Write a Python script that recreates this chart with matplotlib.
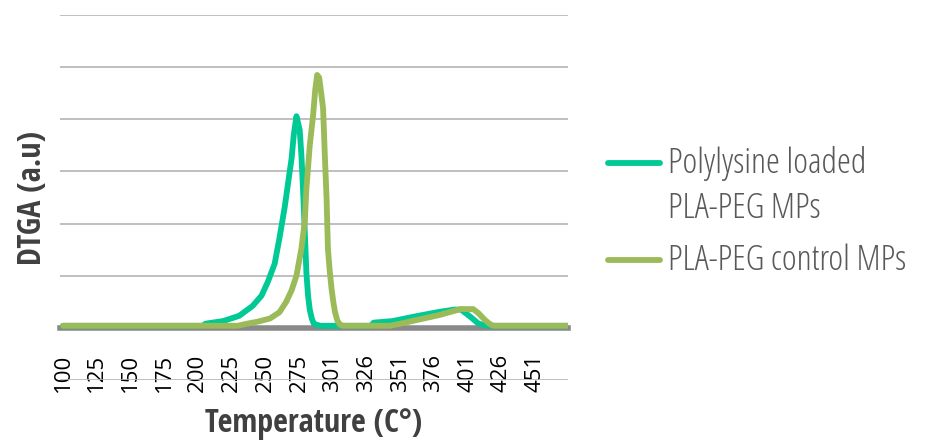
import numpy as np
import matplotlib.pyplot as plt
from matplotlib.lines import Line2D

# DTGA curves (temperature in °C, signal in gridline units)
loaded_temp = [100, 204, 206, 219, 231, 241, 247.7, 252.3, 257.4, 261.1, 264.9, 267.5,
               270, 271.6, 273.6, 276, 277.3, 278.5, 279.8, 281, 282.3, 283.5, 285,
               286.5, 291, 329, 331, 345, 360, 380.5, 391, 396, 403, 409, 415.5, 475]
loaded_dtga = [0.04, 0.04, 0.08, 0.13, 0.23, 0.42, 0.62, 0.88, 1.23, 1.74, 2.32, 2.8,
               3.25, 3.7, 4.06, 3.8, 3.31, 2.65, 1.85, 1.05, 0.6, 0.35, 0.18,
               0.08, 0.04, 0.04, 0.1, 0.13, 0.21, 0.31, 0.35, 0.35, 0.21, 0.08, 0.04, 0.04]

control_temp = [100, 230, 237, 245, 254, 261, 266, 270, 273.6, 277.3, 279.8, 281, 283.5,
                286, 287.5, 289, 290.5, 292, 293.4, 294.7, 296, 297, 298.3, 299.7, 301,
                302.2, 304, 306, 308, 343, 351, 363, 380.5, 391.5, 395.5, 405, 409, 413,
                417, 420, 475]
control_dtga = [0.04, 0.04, 0.08, 0.12, 0.18, 0.3, 0.5, 0.72, 1.0, 1.52, 2.04, 2.67, 3.5,
                4.08, 4.55, 4.85, 4.8, 4.5, 4.21, 3.31, 2.48, 1.52, 1.1, 0.75, 0.5,
                0.31, 0.14, 0.06, 0.04, 0.04, 0.08, 0.15, 0.25, 0.33, 0.36, 0.36, 0.28, 0.17,
                0.08, 0.04, 0.04]

tick_labels = ["100", "125", "150", "175", "200", "225", "250", "275",
               "301", "326", "351", "376", "401", "426", "451"]
series_names = ["Polylysine loaded\nPLA-PEG MPs", "PLA-PEG control MPs"]
colors = ["#00C996", "#9BBB59"]

fig = plt.figure(figsize=(9.28, 4.43), dpi=100)
ax = fig.add_axes([60 / 928, 1 - 380 / 443, 508 / 928, 365 / 443])

ax.plot(loaded_temp, loaded_dtga, color=colors[0], lw=4.2, zorder=3, solid_capstyle="round")
ax.plot(control_temp, control_dtga, color=colors[1], lw=4.2, zorder=4, solid_capstyle="round")

ax.set_xlim(97.8, 475.5)
ax.set_ylim(-1, 6)
ax.set_yticks(range(-1, 7))
ax.yaxis.grid(True, color="#B4B4B4", lw=1.2)
ax.set_axisbelow(True)
ax.tick_params(axis="y", length=0, labelleft=False)

for s in ["left", "right", "top"]:
    ax.spines[s].set_visible(False)
ax.spines["bottom"].set_position(("data", 0))
ax.spines["bottom"].set_color("#898989")
ax.spines["bottom"].set_linewidth(4)

# category labels every 25 readings (step ~1.003 °C)
tick_pos = np.linspace(100, 451, len(tick_labels))
ax.set_xticks(tick_pos, tick_labels, rotation=90, fontsize=16, family="Open Sans")
ax.tick_params(axis="x", length=0, pad=19, colors="black")

# axis titles
fig.text(33 / 928, 1 - 198 / 443, "DTGA (a.u)", rotation=90, ha="center", va="center",
         fontsize=23, fontweight="bold", color="#404040", family="Open Sans Condensed")
fig.text(314 / 928, 1 - 423 / 443, "Temperature (C°)", ha="center", va="center",
         fontsize=23, fontweight="bold", color="#404040", family="Open Sans Condensed")

# legend
handle_y = [163, 260]
for name, c, hy in zip(series_names, colors, handle_y):
    fig.add_artist(Line2D([608 / 928, 660 / 928], [1 - hy / 443, 1 - hy / 443],
                          color=c, lw=4.2, solid_capstyle="round"))
    fig.text(668 / 928, 1 - (hy - 17) / 443, name, ha="left", va="top",
             fontsize=25.5, fontstretch="condensed", fontweight=300, color="#595959",
             family="Open Sans", linespacing=1.4)

fig.savefig("out.png", dpi=100)
